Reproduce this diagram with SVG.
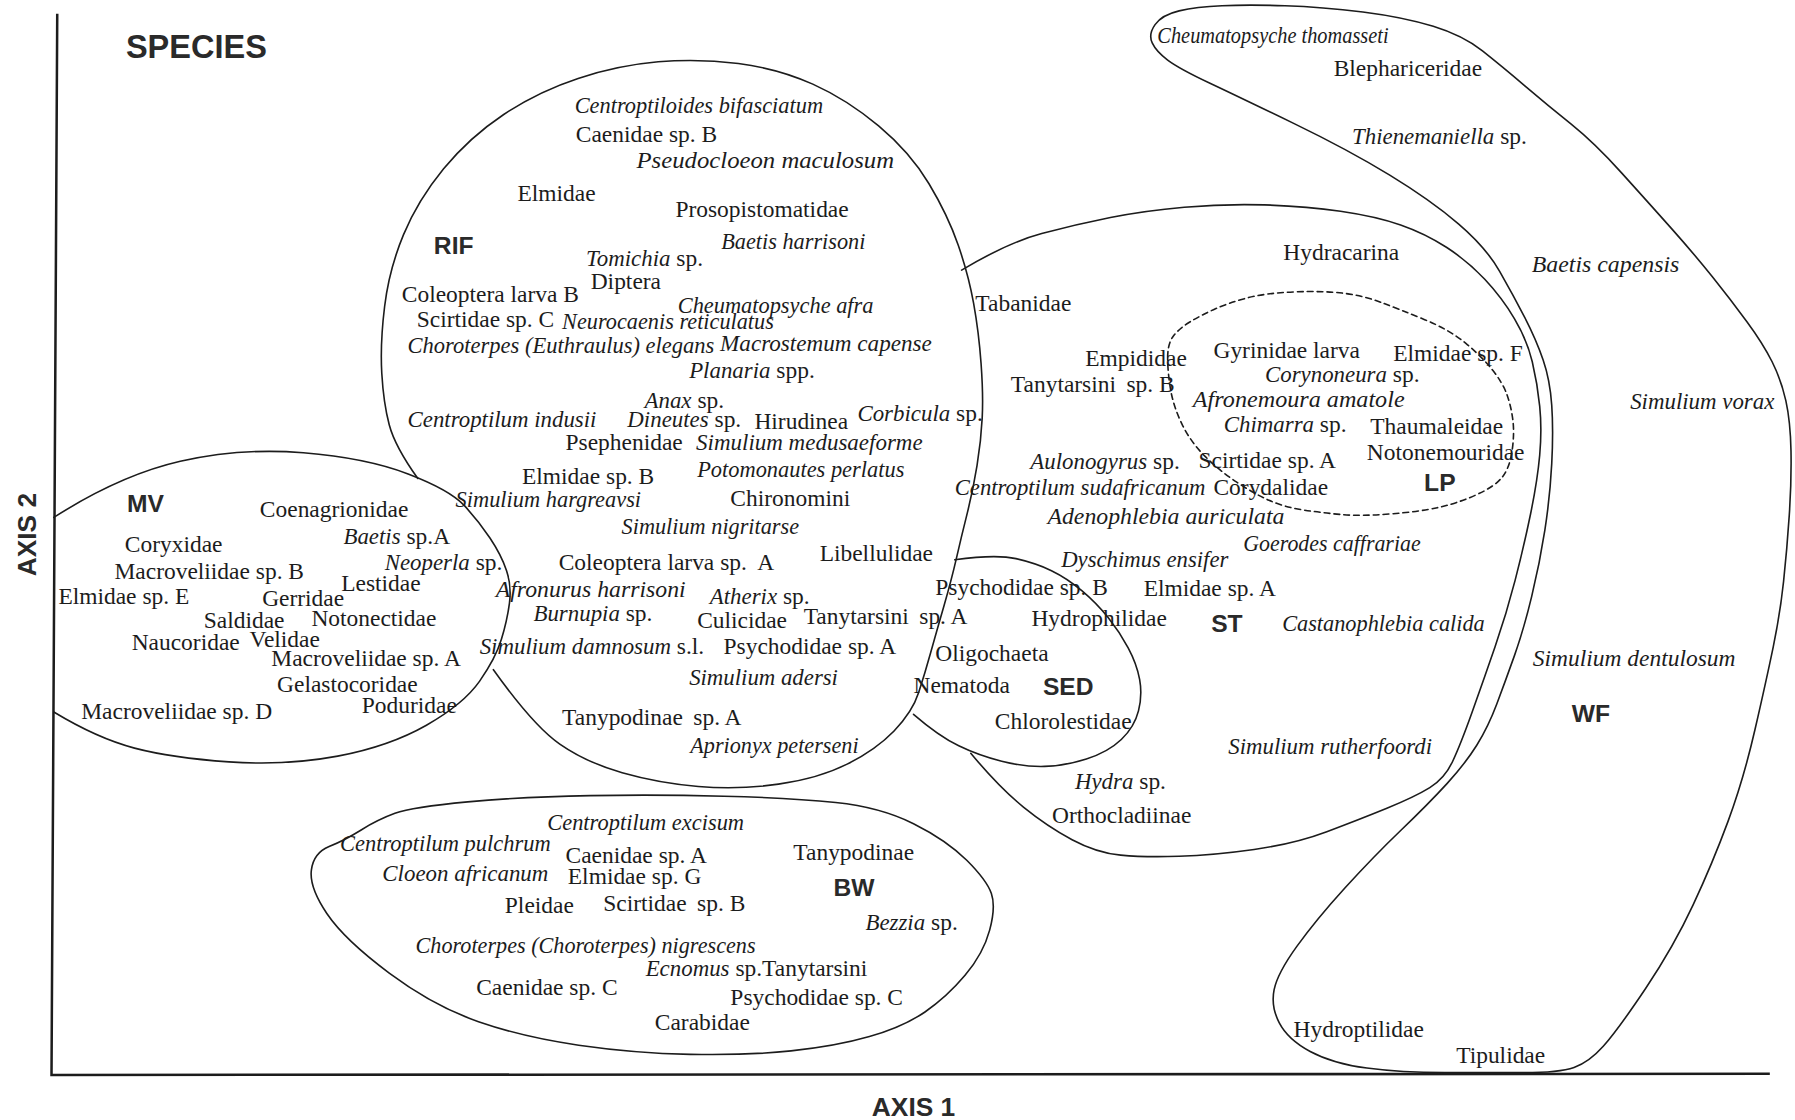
<svg xmlns="http://www.w3.org/2000/svg" width="1795" height="1120" viewBox="0 0 1795 1120">
<style>
.ln{fill:none;stroke:#1c1c1c;stroke-width:1.4;stroke-linejoin:round;stroke-linecap:round}
.ax{fill:none;stroke:#1c1c1c;stroke-width:2.2}
.dash{stroke-dasharray:5 3.6}
.t{font-family:"Liberation Serif","Times New Roman",serif;font-size:20.5px;fill:#1c1c1c}
.it{font-style:italic;font-size:20px}
.lb{font-family:"Liberation Sans",Arial,sans-serif;font-weight:bold;font-size:21.5px;fill:#2a2a2a}
</style>
<rect width="1795" height="1120" fill="#ffffff"/>
<g transform="scale(1.14477)">
<g id="axes">
<path class="ax" d="M50,12 L45,939 L1546,938"/>
<text class="lb" x="110" y="51" style="font-size:28.4px">SPECIES</text>
<text class="lb" style="font-size:23px" text-anchor="middle" transform="translate(31.7,467) rotate(-90)">AXIS 2</text>
<text class="lb" style="font-size:23px" text-anchor="middle" x="798" y="975">AXIS 1</text>
</g>

<g id="MV">
<path class="ln" d="M 47,452 Q 105,415 157.5,403 Q 210,391 265,395.5 Q 320,400 356.5,414 Q 393,428 405.5,441.5 Q 418,455 428,470 Q 438,485 442.5,498.5 Q 447,512 445,527 Q 443,542 438,558.5 Q 433,575 419,595 Q 405,615 372.5,633.5 Q 340,652 295,660.5 Q 250,669 200,665.5 Q 150,662 117.5,653.5 Q 85,645 47,622"/>
<text class="lb" x="111" y="447.5">MV</text>
<text class="t" x="227" y="451.5">Coenagrionidae</text>
<text class="t" x="300" y="475.5"><tspan class="it">Baetis</tspan> sp.A</text>
<text class="t" x="109" y="482.5">Coryxidae</text>
<text class="t" x="336" y="497.5"><tspan class="it">Neoperla</tspan> sp.</text>
<text class="t" x="100" y="505.5">Macroveliidae sp. B</text>
<text class="t" x="298" y="516.5">Lestidae</text>
<text class="t" x="51" y="527.5">Elmidae sp. E</text>
<text class="t" x="229" y="529.5">Gerridae</text>
<text class="t" x="178" y="548.5">Saldidae</text>
<text class="t" x="272" y="546.5">Notonectidae</text>
<text class="t" x="115" y="567.5">Naucoridae</text>
<text class="t" x="218" y="565.5">Velidae</text>
<text class="t" x="237" y="581.5">Macroveliidae sp. A</text>
<text class="t" x="242" y="604.5">Gelastocoridae</text>
<text class="t" x="316" y="622.5">Poduridae</text>
<text class="t" x="71" y="628.5">Macroveliidae sp. D</text>
</g>

<g id="RIF">
<path class="ln" d="M 365,418 Q 345,390 340,371 Q 335,352 333.5,326 Q 332,300 336,267.5 Q 340,235 352.5,205 Q 365,175 387.5,147.5 Q 410,120 440,100 Q 470,80 505,68.5 Q 540,57 575,54 Q 610,51 645,55.5 Q 680,60 710,73.5 Q 740,87 767.5,110 Q 795,133 811.5,160.5 Q 828,188 837,214 Q 846,240 850.5,265 Q 855,290 857,317.5 Q 859,345 858,365 Q 857,385 853.5,406.5 Q 850,428 845,448 Q 840,468 835.5,487.5 Q 831,507 824.5,529.5 Q 818,552 813,570 Q 808,588 802.5,605 Q 797,622 781,638.5 Q 765,655 740,667.5 Q 715,680 680,685 Q 645,690 610,687 Q 575,684 543.5,675 Q 512,666 489,650 Q 466,634 431,585"/>
<text class="t it" x="502" y="98.5" textLength="217" lengthAdjust="spacingAndGlyphs">Centroptiloides bifasciatum</text>
<text class="t" x="503" y="124">Caenidae sp. B</text>
<text class="t it" x="556" y="146.5" textLength="225" lengthAdjust="spacingAndGlyphs">Pseudocloeon maculosum</text>
<text class="t" x="452" y="175.5">Elmidae</text>
<text class="t" x="590" y="189.5">Prosopistomatidae</text>
<text class="lb" x="379" y="221.5">RIF</text>
<text class="t it" x="630" y="217.5" textLength="126" lengthAdjust="spacingAndGlyphs">Baetis harrisoni</text>
<text class="t" x="512" y="232.5"><tspan class="it">Tomichia</tspan> sp.</text>
<text class="t" x="516" y="252.5">Diptera</text>
<text class="t" x="351" y="263.5">Coleoptera larva B</text>
<text class="t it" x="592" y="273.5" textLength="171" lengthAdjust="spacingAndGlyphs">Cheumatopsyche afra</text>
<text class="t" x="364" y="286">Scirtidae sp. C</text>
<text class="t it" x="491" y="287" textLength="185" lengthAdjust="spacingAndGlyphs">Neurocaenis reticulatus</text>
<text class="t it" x="356" y="308" textLength="268" lengthAdjust="spacingAndGlyphs">Choroterpes (Euthraulus) elegans</text>
<text class="t it" x="629" y="307" textLength="185" lengthAdjust="spacingAndGlyphs">Macrostemum capense</text>
<text class="t" x="602" y="330.5"><tspan class="it">Planaria</tspan> spp.</text>
<text class="t" x="563" y="356"><tspan class="it">Anax</tspan> sp.</text>
<text class="t it" x="356" y="373" textLength="165" lengthAdjust="spacingAndGlyphs">Centroptilum indusii</text>
<text class="t" x="548" y="373"><tspan class="it">Dineutes</tspan> sp.</text>
<text class="t" x="659" y="375">Hirudinea</text>
<text class="t" x="749" y="368"><tspan class="it">Corbicula</tspan> sp.</text>
<text class="t" x="494" y="393">Psephenidae</text>
<text class="t it" x="608" y="393" textLength="198" lengthAdjust="spacingAndGlyphs">Simulium medusaeforme</text>
<text class="t" x="456" y="423">Elmidae sp. B</text>
<text class="t it" x="609" y="417" textLength="181" lengthAdjust="spacingAndGlyphs">Potomonautes perlatus</text>
<text class="t it" x="398" y="443" textLength="162" lengthAdjust="spacingAndGlyphs">Simulium hargreavsi</text>
<text class="t" x="638" y="442">Chironomini</text>
<text class="t it" x="543" y="466.5" textLength="155" lengthAdjust="spacingAndGlyphs">Simulium nigritarse</text>
<text class="t" x="716" y="490">Libellulidae</text>
<text class="t" x="488" y="497.5">Coleoptera larva sp. <tspan dx="4">A</tspan></text>
<text class="t it" x="433" y="521.5" textLength="166" lengthAdjust="spacingAndGlyphs">Afronurus harrisoni</text>
<text class="t" x="620" y="527.5"><tspan class="it">Atherix</tspan> sp.</text>
<text class="t" x="466" y="542.5"><tspan class="it">Burnupia</tspan> sp.</text>
<text class="t" x="609" y="548.5">Culicidae</text>
<text class="t" x="702" y="545.5">Tanytarsini <tspan dx="4">sp. A</tspan></text>
<text class="t" x="419" y="571"><tspan class="it">Simulium damnosum</tspan> s.l.</text>
<text class="t" x="632" y="571">Psychodidae sp. A</text>
<text class="t it" x="602" y="598.5" textLength="130" lengthAdjust="spacingAndGlyphs">Simulium adersi</text>
<text class="t" x="491" y="633">Tanypodinae <tspan dx="4">sp. A</tspan></text>
<text class="t it" x="603" y="658" textLength="147" lengthAdjust="spacingAndGlyphs">Aprionyx peterseni</text>
</g>

<g id="ST">
<path class="ln" d="M 840,236 Q 880,212 910,204 Q 940,196 970,190 Q 1000,184 1034.5,181 Q 1069,178 1104.5,179 Q 1140,180 1171,184.5 Q 1202,189 1223.5,196.5 Q 1245,204 1263.5,216 Q 1282,228 1297,244 Q 1312,260 1323,278.5 Q 1334,297 1338.5,316 Q 1343,335 1345,355 Q 1347,375 1345,397.5 Q 1343,420 1337,449 Q 1331,478 1323.5,507 Q 1316,536 1306,565 Q 1296,594 1286,622 Q 1276,650 1269,665 Q 1262,680 1249,688 Q 1236,696 1211.5,706 Q 1187,716 1159,726.5 Q 1131,737 1095.5,742 Q 1060,747 1030,748 Q 1000,749 979,747 Q 958,745 936.5,733.5 Q 915,722 894,705 Q 873,688 848,658"/>
<text class="t" x="852" y="271.5">Tabanidae</text>
<text class="t" x="1121" y="227">Hydracarina</text>
<text class="t" x="948" y="319.5">Empididae</text>
<text class="t" x="883" y="342.5">Tanytarsini <tspan dx="4">sp. B</tspan></text>
<text class="t" x="900" y="409.5"><tspan class="it">Aulonogyrus</tspan> sp.</text>
<text class="t it" x="834" y="432.5" textLength="219" lengthAdjust="spacingAndGlyphs">Centroptilum sudafricanum</text>
<text class="t" x="1060" y="432.5">Corydalidae</text>
<text class="t it" x="915" y="457.5" textLength="207" lengthAdjust="spacingAndGlyphs">Adenophlebia auriculata</text>
<text class="t it" x="1086" y="481" textLength="155" lengthAdjust="spacingAndGlyphs">Goerodes caffrariae</text>
<text class="t it" x="927" y="495.5" textLength="146" lengthAdjust="spacingAndGlyphs">Dyschimus ensifer</text>
<text class="t" x="999" y="521">Elmidae sp. A</text>
<text class="lb" x="1058" y="552.5">ST</text>
<text class="t it" x="1120" y="551.5" textLength="177" lengthAdjust="spacingAndGlyphs">Castanophlebia calida</text>
<text class="t it" x="1073" y="658.5" textLength="178" lengthAdjust="spacingAndGlyphs">Simulium rutherfoordi</text>
<text class="t" x="939" y="689.5"><tspan class="it">Hydra</tspan> sp.</text>
<text class="t" x="919" y="718.5">Orthocladiinae</text>
</g>

<g id="LP">
<path class="ln dash" d="M 1020,312.5 Q 1020,300 1025,293.5 Q 1030,287 1039,281.5 Q 1048,276 1060,270.5 Q 1072,265 1088.5,260.5 Q 1105,256 1130,255 Q 1155,254 1172.5,256 Q 1190,258 1206,264 Q 1222,270 1244,279 Q 1266,288 1280.5,300 Q 1295,312 1304,323.5 Q 1313,335 1316.5,345 Q 1320,355 1321.5,366.5 Q 1323,378 1321,393 Q 1319,408 1312.5,416.5 Q 1306,425 1289,432.5 Q 1272,440 1255.5,443.5 Q 1239,447 1214,449 Q 1189,451 1172,449.5 Q 1155,448 1138.5,445.5 Q 1122,443 1108.5,437 Q 1095,431 1080,421 Q 1065,411 1052.5,398.5 Q 1040,386 1032.5,370.5 Q 1025,355 1022.5,340 Q 1020,325 1020,312.5 Z"/>
<text class="t" x="1060" y="312.5">Gyrinidae larva</text>
<text class="t" x="1217" y="315">Elmidae sp. F</text>
<text class="t" x="1105" y="334"><tspan class="it">Corynoneura</tspan> sp.</text>
<text class="t it" x="1042" y="355.5" textLength="185" lengthAdjust="spacingAndGlyphs">Afronemoura amatole</text>
<text class="t" x="1069" y="377.5"><tspan class="it">Chimarra</tspan> sp.</text>
<text class="t" x="1197" y="379.5">Thaumaleidae</text>
<text class="t" x="1194" y="402">Notonemouridae</text>
<text class="t" x="1047" y="408.5">Scirtidae sp. A</text>
<text class="lb" x="1244" y="428.5">LP</text>
</g>

<g id="SED">
<path class="ln" d="M 834,489 Q 870,484 887.5,488 Q 905,492 918.5,498.5 Q 932,505 945,516 Q 958,527 968,539.5 Q 978,552 985.5,566 Q 993,580 995.5,593.5 Q 998,607 994.5,621 Q 991,635 979.5,646 Q 968,657 949,663 Q 930,669 912.5,669.5 Q 895,670 875,665 Q 855,660 837.5,651.5 Q 820,643 798,624"/>
<text class="t" x="817" y="520">Psychodidae sp. B</text>
<text class="t" x="901" y="546.5">Hydrophilidae</text>
<text class="t" x="817" y="577.5">Oligochaeta</text>
<text class="t" x="798" y="605.5">Nematoda</text>
<text class="lb" x="911" y="607">SED</text>
<text class="t" x="869" y="636.5">Chlorolestidae</text>
</g>

<g id="WF">
<path class="ln" d="M 1006.5,37.5 Q 1003,30 1009,21.5 Q 1015,13 1030,9.5 Q 1045,6 1067.5,5 Q 1090,4 1122.5,5 Q 1155,6 1190.5,10.5 Q 1226,15 1252,23 Q 1278,31 1295,44.5 Q 1312,58 1332,75 Q 1352,92 1372.5,108.5 Q 1393,125 1416.5,151 Q 1440,177 1460,199.5 Q 1480,222 1496,242 Q 1512,262 1526,281 Q 1540,300 1548,316 Q 1556,332 1560,350 Q 1564,368 1564.5,394 Q 1565,420 1563,450 Q 1561,480 1558,508 Q 1555,536 1549,565 Q 1543,594 1533,637.5 Q 1523,681 1509.5,717.5 Q 1496,754 1479,790.5 Q 1462,827 1437.5,863.5 Q 1413,900 1400.5,914 Q 1388,928 1375,932.5 Q 1362,937 1331,937 Q 1300,937 1262,937 Q 1224,937 1194,933 Q 1164,929 1144.5,918.5 Q 1125,908 1117.5,893.5 Q 1110,879 1113,864.5 Q 1116,850 1133,826.5 Q 1150,803 1175,775.5 Q 1200,748 1224,725 Q 1248,702 1264,684.5 Q 1280,667 1290,651 Q 1300,635 1307.5,615 Q 1315,595 1323,572.5 Q 1331,550 1338,521 Q 1345,492 1349.5,463 Q 1354,434 1355.5,405 Q 1357,376 1355.5,354 Q 1354,332 1348,314.5 Q 1342,297 1332,277.5 Q 1322,258 1310,237 Q 1298,216 1274,195.5 Q 1250,175 1214,153 Q 1178,131 1130.5,108 Q 1083,85 1056.5,72.5 Q 1030,60 1020,52.5 Q 1010,45 1006.5,37.5 Z"/>
<text class="t it" x="1011" y="37.5" textLength="202" lengthAdjust="spacingAndGlyphs">Cheumatopsyche thomasseti</text>
<text class="t" x="1165" y="66">Blephariceridae</text>
<text class="t" x="1181" y="126"><tspan class="it">Thienemaniella</tspan> sp.</text>
<text class="t it" x="1338" y="237.5" textLength="129" lengthAdjust="spacingAndGlyphs">Baetis capensis</text>
<text class="t it" x="1424" y="357" textLength="126" lengthAdjust="spacingAndGlyphs">Simulium vorax</text>
<text class="t it" x="1339" y="581.5" textLength="177" lengthAdjust="spacingAndGlyphs">Simulium dentulosum</text>
<text class="lb" x="1373" y="630.5">WF</text>
<text class="t" x="1130" y="906">Hydroptilidae</text>
<text class="t" x="1272" y="929">Tipulidae</text>
</g>

<g id="BW">
<path class="ln" d="M 287.5,739.5 Q 301,734 315.5,725 Q 330,716 345,710.5 Q 360,705 408.5,700.5 Q 457,696 515.5,695 Q 574,694 632.5,695.5 Q 691,697 730,701 Q 769,705 798,719.5 Q 827,734 844.5,751.5 Q 862,769 866,780.5 Q 870,792 864.5,812.5 Q 859,833 843,852 Q 827,871 808,884 Q 789,897 759.5,905.5 Q 730,914 691,918 Q 652,922 603,921 Q 554,920 505.5,913 Q 457,906 418,892.5 Q 379,879 340,850 Q 301,821 285.5,798 Q 270,775 272,760 Q 274,745 287.5,739.5 Z"/>
<text class="t it" x="478" y="725" textLength="172" lengthAdjust="spacingAndGlyphs">Centroptilum excisum</text>
<text class="t it" x="297" y="743.5" textLength="184" lengthAdjust="spacingAndGlyphs">Centroptilum pulchrum</text>
<text class="t" x="494" y="753.5">Caenidae sp. A</text>
<text class="t" x="693" y="751.5">Tanypodinae</text>
<text class="t it" x="334" y="769.5" textLength="145" lengthAdjust="spacingAndGlyphs">Cloeon africanum</text>
<text class="t" x="496" y="772.5">Elmidae sp. G</text>
<text class="lb" x="728" y="782.5">BW</text>
<text class="t" x="441" y="797.5">Pleidae</text>
<text class="t" x="527" y="795.5">Scirtidae <tspan dx="4">sp. B</tspan></text>
<text class="t" x="756" y="812.5"><tspan class="it">Bezzia</tspan> sp.</text>
<text class="t it" x="363" y="832.5" textLength="297" lengthAdjust="spacingAndGlyphs">Choroterpes (Choroterpes) nigrescens</text>
<text class="t" x="564" y="852.5"><tspan class="it">Ecnomus</tspan> sp.Tanytarsini</text>
<text class="t" x="416" y="869.5">Caenidae sp. C</text>
<text class="t" x="638" y="877.5">Psychodidae sp. C</text>
<text class="t" x="572" y="899.5">Carabidae</text>
</g>
</g>
</svg>
